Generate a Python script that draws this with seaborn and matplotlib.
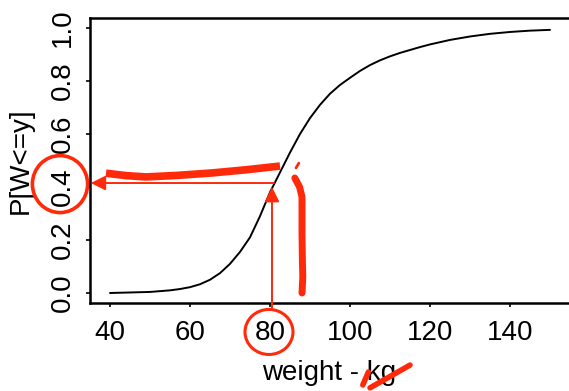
import numpy as np
import pandas as pd
import matplotlib
matplotlib.use("Agg")
import matplotlib.pyplot as plt
from matplotlib.patches import Ellipse
import seaborn as sns

# cumulative distribution of weight
weight_kg = [40, 45, 50, 55, 57.5, 60, 62.5, 65, 67.5, 70, 72.5, 75, 77.5, 80, 82.5,
             85, 87.5, 90, 92.5, 95, 97.5, 100, 102.5, 105, 107.5, 110, 112.5, 115,
             117.5, 120, 125, 130, 135, 140, 145, 150]
cum_prob = [0.000, 0.002, 0.004, 0.010, 0.015, 0.022, 0.033, 0.050, 0.075, 0.110,
            0.155, 0.210, 0.290, 0.380, 0.455, 0.530, 0.600, 0.660, 0.710, 0.752,
            0.785, 0.812, 0.838, 0.860, 0.878, 0.893, 0.906, 0.917, 0.928, 0.938,
            0.955, 0.968, 0.978, 0.985, 0.990, 0.993]

x_ticks = [40, 60, 80, 100, 120, 140]
y_ticks = [0.0, 0.2, 0.4, 0.6, 0.8, 1.0]
x_label = "weight - kg"
y_label = "P[W<=y]"

# the hand-drawn red markup (weight read-off at 80 kg -> about 0.4)
mark_weight = 80
mark_prob = 0.415
red_bar_x = [39.0, 44.0, 49.0, 57.0, 65.5, 74.0, 82.5]
red_bar_y = [0.452, 0.443, 0.438, 0.444, 0.453, 0.465, 0.479]
red_tick_x = [86.2, 87.4, 88.0, 88.0, 88.1, 88.2, 88.0]
red_tick_y = [0.434, 0.400, 0.362, 0.226, 0.120, 0.060, 0.000]

df = pd.DataFrame({"weight": weight_kg, "prob": cum_prob})

sns.set_theme(style="ticks")
plt.rcParams["font.family"] = ["Liberation Sans", "DejaVu Sans"]
red = "#ff2a0a"

fig = plt.figure(figsize=(5.69, 3.91), dpi=100)
ax = fig.add_axes([90 / 569, 88 / 391, 479 / 569, 285 / 391])

sns.lineplot(data=df, x="weight", y="prob", color="black", linewidth=1.4, ax=ax)

ax.set_xlim(35, 154.75)
ax.set_ylim(-10 / 265, 1 + 10 / 265)
ax.set_xticks(x_ticks)
ax.set_yticks(y_ticks)
ax.set_xticklabels([str(t) for t in x_ticks], fontsize=20)
ax.set_yticklabels(["%.1f" % t for t in y_ticks], fontsize=20, rotation=90, va="center")
ax.tick_params(axis="x", length=3, width=1.2, pad=9, colors="black")
ax.tick_params(axis="y", length=3, width=1.2, pad=7, colors="black")
ax.set_xlabel(x_label, fontsize=20, labelpad=10, color="black")
ax.set_ylabel(y_label, fontsize=20, labelpad=12, color="black")
for side in ["left", "bottom", "top"]:
    ax.spines[side].set_visible(True)
    ax.spines[side].set_linewidth(1.8)
    ax.spines[side].set_color("black")
ax.spines["right"].set_visible(False)

# circles around the tick labels
ax.add_patch(Ellipse((27.5, 0.411), 13.8, 0.215, fill=False, ec=red, lw=2.6, clip_on=False))
ax.add_patch(Ellipse((79.75, -0.147), 12.0, 0.17, fill=False, ec=red, lw=2.2, clip_on=False))

# arrows: up from 80 kg to the curve, then across to the axis
ax.annotate("", xy=(mark_weight + 0.5, mark_prob - 0.015), xytext=(mark_weight + 0.5, -0.064),
            arrowprops=dict(arrowstyle="-|>", color=red, lw=1.4, mutation_scale=22,
                            shrinkA=0, shrinkB=0), annotation_clip=False)
ax.annotate("", xy=(35.2, mark_prob), xytext=(mark_weight + 1, mark_prob),
            arrowprops=dict(arrowstyle="-|>", color=red, lw=1.4, mutation_scale=22,
                            shrinkA=0, shrinkB=0), annotation_clip=False)

# thick marker strokes
ax.plot(red_bar_x, red_bar_y, color=red, lw=5.5, solid_capstyle="butt")
ax.plot(red_tick_x, red_tick_y, color=red, lw=5.0, solid_capstyle="round")
ax.plot([86.5, 87.2], [0.472, 0.490], color=red, lw=2.0)
ax.plot([103.2, 104.6], [-0.347, -0.298], color=red, lw=4, clip_on=False)
ax.plot([105.0, 115.0], [-0.358, -0.272], color=red, lw=4, clip_on=False)

fig.savefig("out.png", dpi=100)
